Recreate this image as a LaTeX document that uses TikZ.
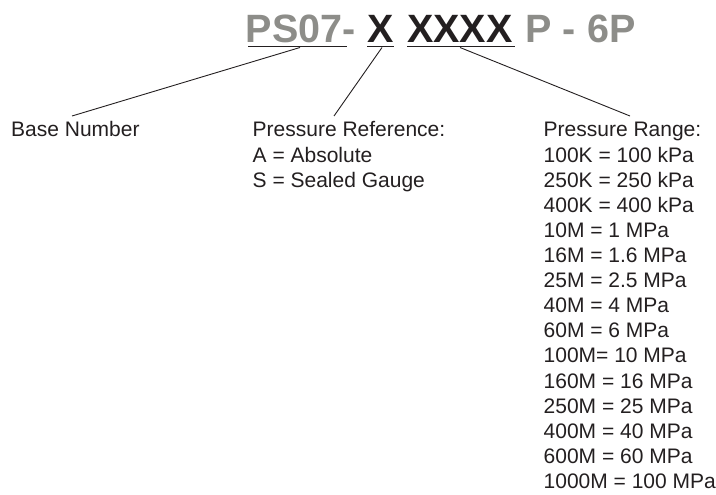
\documentclass[tikz,border=0pt]{standalone}
\usepackage{fontspec}
\setmainfont{Liberation Sans}
\definecolor{ink}{RGB}{35,31,32}
\definecolor{grayt}{RGB}{141,141,137}
\begin{document}
\begin{tikzpicture}[x=1pt,y=-1pt,
  lbl/.style={anchor=base west, inner sep=0pt, font=\fontsize{21}{25}\selectfont, text=ink},
  ttl/.style={anchor=base west, inner sep=0pt, font=\fontsize{39.5}{41}\selectfont\bfseries},
  ul/.style={line width=1.5pt, draw=ink},
  lead/.style={line width=0.9pt, draw=ink}]
\useasboundingbox (0,0) rectangle (716,495);
% title
\node[ttl,text=grayt] (ps) at (245.5,43) {PS07-};
\node[ttl,text=ink] (xa) at (367,43) {X};
\node[ttl,text=ink] (xb) at (407,43) {XXXX};
\node[ttl,text=grayt] (pp) at (525.5,43) {P - 6P};
% underlines
\coordinate (u1a) at (248,46.5); \coordinate (u1b) at (347,46.5);
\coordinate (u2a) at (367,46.5); \coordinate (u2b) at (394,46.5);
\coordinate (u3a) at (407,46.5); \coordinate (u3b) at (515,46.5);
\draw[ul] (u1a) -- (u1b);
\draw[ul] (u2a) -- (u2b);
\draw[ul] (u3a) -- (u3b);
% connector ends
\coordinate (t1) at (300,47.5); \coordinate (e1) at (72,116);
\coordinate (t2) at (382,47.5); \coordinate (e2) at (334,116);
\coordinate (t3) at (460,47.5); \coordinate (e3) at (630,116);
\draw[lead] (t1) -- (e1);
\draw[lead] (t2) -- (e2);
\draw[lead] (t3) -- (e3);
% labels
\node[lbl] (base) at (11,137) {Base Number};
\node[lbl] (ref0) at (252.5,137) {Pressure Reference:};
\node[lbl] (ref1) at (252.5,162.1) {A = Absolute};
\node[lbl] (ref2) at (252.5,187.2) {S = Sealed Gauge};
\foreach \t [count=\i from 0] in {Pressure Range:,100K = 100 kPa,250K = 250 kPa,400K = 400 kPa,10M = 1 MPa,16M = 1.6 MPa,25M = 2.5 MPa,40M = 4 MPa,60M = 6 MPa,100M= 10 MPa,160M = 16 MPa,250M = 25 MPa,400M = 40 MPa,600M = 60 MPa,1000M = 100 MPa}
  \node[lbl] (rng\i) at (543.5,137+\i*25.1) {\t};
\end{tikzpicture}
\end{document}
